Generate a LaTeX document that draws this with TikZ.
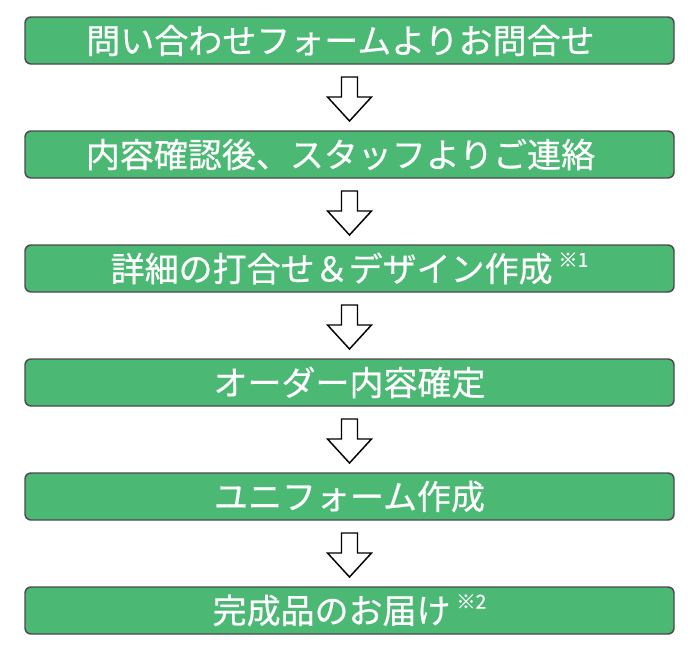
\documentclass[tikz,border=0pt]{standalone}
\usepackage{fontspec}
\usepackage{tikz}
\usetikzlibrary{
  positioning,
  calc
}
\newfontfamily\jpfont[FakeBold=0.5]{Noto Sans CJK JP}
\definecolor{StepGreen}{HTML}{4BB874}
\definecolor{StepEdge}{HTML}{4A4A4A}
\newcommand{\note}[1]{\smash{\raisebox{11pt}{\fontsize{14.5pt}{16pt}\selectfont #1}}}
\newcommand{\trail}{\hspace*{13.5pt}}
\tikzset{
  % Step box: full width, fixed height
  stepbox/.style={
    rectangle, rounded corners=4.5pt,
    draw=StepEdge, fill=StepGreen, line width=1.1pt,
    minimum width=486.75pt, minimum height=35.25pt,
    inner sep=0pt, outer sep=0pt, align=center, text=white,
    font=\jpfont\fontsize{25.5pt}{30pt}\selectfont
  },
  % Hollow block arrow
  downarr/.style={
    draw=black, fill=white, line width=1.1pt, line join=miter
  }
}
\begin{document}
\begin{tikzpicture}[x=0.75pt,y=-0.75pt]
  \useasboundingbox (0,0) rectangle (700,653);
  \node[stepbox] (s1) at (349.5,40.5) {問い合わせフォームよりお問合せ\trail};
  \node[stepbox, below=50.25pt of s1] (s2) {内容確認後、スタッフよりご連絡\trail};
  \node[stepbox, below=50.25pt of s2] (s3) {詳細の打合せ＆デザイン作成\,\note{※1}};
  \node[stepbox, below=50.25pt of s3] (s4) {オーダー内容確定};
  \node[stepbox, below=50.25pt of s4] (s5) {ユニフォーム作成};
  \node[stepbox, below=50.25pt of s5] (s6) {完成品のお届け\,\note{※2}};

  \foreach \a/\b in {s1/s2, s2/s3, s3/s4, s4/s5, s5/s6}
    \draw[downarr] ($(\a.south)+(-8,13)$) -- ($(\a.south)+(8,13)$)
      -- ($(\a.south)+(8,33)$) -- ($(\a.south)+(22,33)$)
      -- ($(\b.north)+(0,-10)$)
      -- ($(\a.south)+(-22,33)$) -- ($(\a.south)+(-8,33)$) -- cycle;
\end{tikzpicture}
\end{document}
